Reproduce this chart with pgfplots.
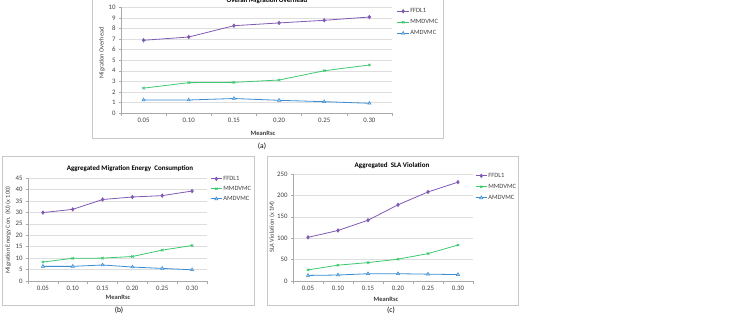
\documentclass[border=0pt]{standalone}
\usepackage{fontspec}
\setmainfont{Carlito}
\usepackage{pgfplots}
\pgfplotsset{compat=1.18}

\definecolor{cffd}{RGB}{128,90,180}
\definecolor{cmmd}{RGB}{60,200,110}
\definecolor{camd}{RGB}{60,140,210}
\definecolor{camdfill}{RGB}{165,205,240}
\definecolor{gridc}{RGB}{222,222,222}
\definecolor{axc}{RGB}{170,170,170}
\definecolor{framec}{RGB}{200,200,200}

\pgfplotsset{
 excel/.style={
  scale only axis,
  anchor=south west,
  xmin=-0.5, xmax=5.5,
  xtick={0,...,5},
  xticklabels={0.05,0.10,0.15,0.20,0.25,0.30},
  minor xtick={-0.5,0.5,...,5.5},
  axis lines*=left,
  axis line style={axc, line width=0.5pt},
  major x tick style={draw=none},
  minor x tick style={axc, line width=0.4pt},
  major y tick style={axc, line width=0.4pt},
  tick align=outside,
  major tick length=2pt,
  minor tick length=3pt,
  ymajorgrids,
  grid style={gridc, line width=0.4pt},
  tick label style={font=\fontsize{6.8}{7.5}\selectfont, text=black!75},
  /pgf/number format/assume math mode=true,
  clip=false,
  legend cell align=left,
  legend image code/.code={\draw[mark repeat=2,mark phase=2,##1] plot coordinates {(0cm,0cm) (0.2cm,0cm) (0.4cm,0cm)};},
  legend style={draw=none, fill=none, font=\fontsize{6.5}{7}\selectfont, text=black!75, inner sep=0pt,
     nodes={inner sep=1pt, text height=4.5pt, text depth=1pt}},
 },
 sffd/.style={cffd, line width=0.8pt, mark=diamond*, mark size=1.6pt, mark options={fill=cffd, draw=cffd}},
 smmd/.style={cmmd, line width=0.8pt, mark=x, mark size=1.7pt, mark options={line width=0.7pt}},
 samd/.style={camd, line width=0.8pt, mark=triangle*, mark size=1.9pt, mark options={fill=camdfill, draw=camd, line width=0.5pt}},
}

\begin{document}
\begin{tikzpicture}[x=1pt,y=1pt]
\useasboundingbox (0,0) rectangle (741,313);
\fill[white] (0,0) rectangle (741,313);

% frames
\draw[framec, line width=0.5pt] (92,175) rectangle (443,320);
\draw[framec, line width=0.5pt] (2,8) rectangle (254,157);
\draw[framec, line width=0.5pt] (267,8) rectangle (518,157);

% ---------- (a)
\begin{axis}[excel, at={(121pt,200pt)}, width=271pt, height=105.7pt,
  ymin=0, ymax=10, ytick={0,...,10},
  legend style={at={(axis description cs:1.018,1.0)}, anchor=north west, row sep=3.5pt}]
\addplot[sffd] coordinates {(0,6.88) (1,7.19) (2,8.26) (3,8.52) (4,8.77) (5,9.08)};
\addlegendentry{FFDL1}
\addplot[smmd] coordinates {(0,2.35) (1,2.87) (2,2.9) (3,3.12) (4,4.0) (5,4.54)};
\addlegendentry{MMDVMC}
\addplot[samd] coordinates {(0,1.23) (1,1.23) (2,1.37) (3,1.2) (4,1.07) (5,0.92)};
\addlegendentry{AMDVMC}
\end{axis}
\node[anchor=base, font=\bfseries\fontsize{7}{8}\selectfont] at (267,310.5) {Overall Migration Overhead};
\node[rotate=90, font=\fontsize{6.3}{7}\selectfont, text=black!75] at (102,260) {Migration Overhead};
\node[font=\bfseries\fontsize{6.5}{7}\selectfont, text=black!75] at (263,180) {MeanRsc};
\node[font=\fontsize{7.5}{8}\selectfont] at (262,167) {(a)};

% ---------- (b)
\begin{axis}[excel, at={(28pt,32pt)}, width=179pt, height=103pt,
  ymin=0, ymax=45, ytick={0,5,...,45},
  legend style={at={(axis description cs:1.017,1.03)}, anchor=north west, row sep=2.5pt}]
\addplot[sffd] coordinates {(0,29.9) (1,31.3) (2,35.6) (3,36.7) (4,37.3) (5,39.3)};
\addlegendentry{FFDL1}
\addplot[smmd] coordinates {(0,8.3) (1,9.9) (2,10.0) (3,10.7) (4,13.5) (5,15.5)};
\addlegendentry{MMDVMC}
\addplot[samd] coordinates {(0,6.4) (1,6.4) (2,7.0) (3,6.1) (4,5.5) (5,4.9)};
\addlegendentry{AMDVMC}
\end{axis}
\node[font=\bfseries\fontsize{7}{8}\selectfont] at (130,144) {Aggregated Migration Energy\ \ Consumption};
\node[rotate=90, font=\fontsize{6.3}{7}\selectfont, text=black!75] at (8,83) {Migration Energy Con. (KJ) (x 100)};
\node[font=\bfseries\fontsize{6.5}{7}\selectfont, text=black!75] at (118,16) {MeanRsc};
\node[font=\fontsize{7.5}{8}\selectfont] at (119,3) {(b)};

% ---------- (c)
\begin{axis}[excel, at={(293pt,32pt)}, width=180pt, height=107pt,
  ymin=0, ymax=250, ytick={0,50,...,250},
  legend style={at={(axis description cs:1.011,1.02)}, anchor=north west, row sep=3.5pt}]
\addplot[sffd] coordinates {(0,102) (1,118) (2,142) (3,178) (4,208) (5,231)};
\addlegendentry{FFDL1}
\addplot[smmd] coordinates {(0,26) (1,37) (2,43) (3,51) (4,64) (5,84)};
\addlegendentry{MMDVMC}
\addplot[samd] coordinates {(0,13) (1,14) (2,17) (3,17) (4,16) (5,15)};
\addlegendentry{AMDVMC}
\end{axis}
\node[font=\bfseries\fontsize{7}{8}\selectfont] at (392,147) {Aggregated\ \ SLA Violation};
\node[rotate=90, font=\fontsize{6.3}{7}\selectfont, text=black!75] at (272,86) {SLA Violation (x 1M)};
\node[font=\bfseries\fontsize{6.5}{7}\selectfont, text=black!75] at (386,14) {MeanRsc};
\node[font=\fontsize{7.5}{8}\selectfont] at (391,3) {(c)};
\end{tikzpicture}
\end{document}
